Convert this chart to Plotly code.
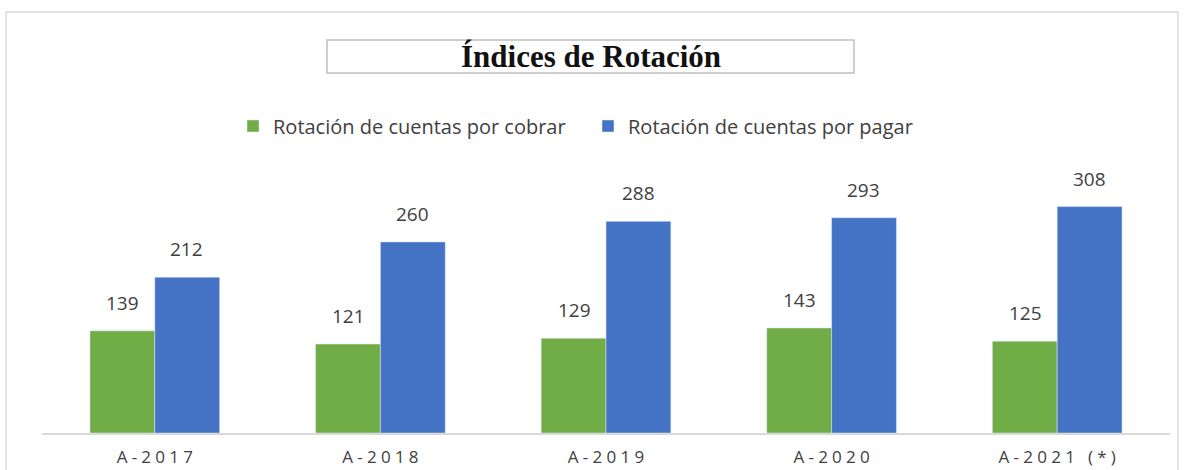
import plotly.graph_objects as go

# Data
CATEGORIES = ["A-2017", "A-2018", "A-2019", "A-2020", "A-2021 (*)"]
COBRAR = [139, 121, 129, 143, 125]
PAGAR = [212, 260, 288, 293, 308]

SERIES_NAMES = ["Rotación de cuentas por cobrar", "Rotación de cuentas por pagar"]
COLORS = {"cobrar": "#70AD47", "pagar": "#4472C4", "text": "#404040", "axis": "#D9D9D9"}
FONT = "Open Sans, sans-serif"

W, H = 1185, 470
L, R, T, B = 42, 15, 150, 37
PLOT_W = W - L - R
PLOT_H = H - T - B
PX_PER_UNIT = 0.735


def px_x(x):
    return (x - L) / PLOT_W


def px_y(y):
    return (H - B - y) / PLOT_H


def spaced(label):
    # mimic the letter-spaced axis labels of the original
    return "\u2005".join(label)


fig = go.Figure()
fig.add_trace(go.Bar(x=CATEGORIES, y=COBRAR, name=SERIES_NAMES[0], marker_color=COLORS["cobrar"]))
fig.add_trace(go.Bar(x=CATEGORIES, y=PAGAR, name=SERIES_NAMES[1], marker_color=COLORS["pagar"]))

# value labels above bars
for vals, shift in [(COBRAR, -32), (PAGAR, 32)]:
    for cat, v in zip(CATEGORIES, vals):
        fig.add_annotation(
            x=cat, y=v, text=str(v), showarrow=False, xshift=shift, yshift=28,
            yanchor="middle", font=dict(family=FONT, size=19, color=COLORS["text"]),
        )

# title with its box
fig.add_shape(type="rect", xref="paper", yref="paper",
              x0=px_x(327), x1=px_x(854), y0=px_y(73), y1=px_y(40),
              line=dict(color="#BFBFBF", width=1.5))
fig.add_annotation(
    xref="paper", yref="paper", x=px_x(591), y=px_y(56), xanchor="center", yanchor="middle",
    text="<b>Índices de Rotación</b>", showarrow=False,
    font=dict(family="Liberation Serif, serif", size=31, color="#111111"),
)

# outer chart border
fig.add_shape(type="rect", xref="paper", yref="paper",
              x0=px_x(6), x1=px_x(1178), y0=px_y(490), y1=px_y(12),
              line=dict(color="#D9D9D9", width=1.5))

fig.update_layout(
    width=W, height=H,
    margin=dict(l=L, r=R, t=T, b=B),
    plot_bgcolor="white", paper_bgcolor="white",
    barmode="group", bargap=0.425, bargroupgap=0,
    showlegend=True,
    legend=dict(orientation="h", x=px_x(588), xanchor="center", y=px_y(126), yanchor="middle",
                font=dict(family=FONT, size=20, color=COLORS["text"]),
                itemwidth=30, entrywidth=310, traceorder="normal"),
)
fig.update_xaxes(
    showline=True, linecolor=COLORS["axis"], linewidth=1.5, ticks="", automargin=False,
    tickvals=CATEGORIES, ticktext=[spaced(c) for c in CATEGORIES],
    tickfont=dict(family=FONT, size=17, color=COLORS["text"]), ticklabelstandoff=8,
)
fig.update_yaxes(visible=False, range=[0, PLOT_H / PX_PER_UNIT], showgrid=False)

fig.write_html("out.html", config={"displayModeBar": False},
               post_script="document.body.style.margin = '0';")
